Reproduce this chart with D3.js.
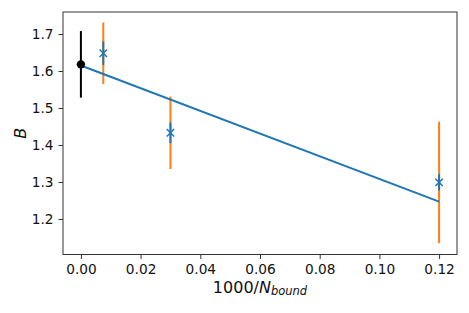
<!DOCTYPE html>
<html lang="en-US">
  <head>
    <meta charset="utf-8">
    <title>B vs 1000/N</title>
    <style>
      body { margin: 0; background: white; }
      text { font-family: "DejaVu Sans", sans-serif; }
    </style>
  </head>
  <body>
  <script src="https://d3js.org/d3.v7.min.js"></script>
  <div id="my_dataviz"></div>
  <script>

    // data
    var xs       = [0.0075, 0.03, 0.12]
    var ys       = [1.648, 1.433, 1.299]
    var errInner = [0.032, 0.028, 0.022]   // blue bars
    var errOuter = [0.083, 0.098, 0.164]   // orange bars
    var extrap   = {x: 0, y: 1.618, err: 0.09}
    var fitLine  = [[0, 1.615], [0.12, 1.247]]
    var xTicks   = [0, 0.02, 0.04, 0.06, 0.08, 0.10, 0.12]
    var yTicks   = [1.2, 1.3, 1.4, 1.5, 1.6, 1.7]

    var width = 469, height = 313
    var margin = {left: 63, top: 12, right: 12, bottom: 58.5}

    var svg = d3.select("#my_dataviz")
      .append("svg")
        .attr("width", width)
        .attr("height", height)

    var x = d3.scaleLinear()
      .domain([-0.006, 0.126])
      .range([margin.left, width - margin.right])
    var y = d3.scaleLinear()
      .domain([1.104, 1.7595])
      .range([height - margin.bottom, margin.top])

    var blue = "#1f77b4", orange = "#ff7f0e"

    // orange error bars
    svg.selectAll("line.outer")
      .data(xs)
      .enter().append("line")
        .attr("x1", function(d){ return x(d) })
        .attr("x2", function(d){ return x(d) })
        .attr("y1", function(d, i){ return y(ys[i] - errOuter[i]) })
        .attr("y2", function(d, i){ return y(ys[i] + errOuter[i]) })
        .attr("stroke", orange)
        .attr("stroke-width", 2)

    // blue error bars
    svg.selectAll("line.inner")
      .data(xs)
      .enter().append("line")
        .attr("x1", function(d){ return x(d) })
        .attr("x2", function(d){ return x(d) })
        .attr("y1", function(d, i){ return y(ys[i] - errInner[i]) })
        .attr("y2", function(d, i){ return y(ys[i] + errInner[i]) })
        .attr("stroke", blue)
        .attr("stroke-width", 2)

    // x markers
    var s = 3.7
    var marks = svg.selectAll("g.mark")
      .data(xs)
      .enter().append("g")
        .attr("transform", function(d, i){ return "translate(" + x(d) + "," + y(ys[i]) + ")" })
    marks.append("path")
      .attr("d", "M" + (-s) + "," + (-s) + "L" + s + "," + s + "M" + (-s) + "," + s + "L" + s + "," + (-s))
      .attr("stroke", blue)
      .attr("stroke-width", 1.5)
      .attr("fill", "none")

    // fit line
    svg.append("path")
      .datum(fitLine)
      .attr("d", d3.line().x(function(d){ return x(d[0]) }).y(function(d){ return y(d[1]) }))
      .attr("stroke", blue)
      .attr("stroke-width", 2)
      .attr("fill", "none")

    // extrapolated point
    svg.append("line")
      .attr("x1", x(extrap.x)).attr("x2", x(extrap.x))
      .attr("y1", y(extrap.y - extrap.err)).attr("y2", y(extrap.y + extrap.err))
      .attr("stroke", "black")
      .attr("stroke-width", 2)
    svg.append("circle")
      .attr("cx", x(extrap.x))
      .attr("cy", y(extrap.y))
      .attr("r", 4.2)
      .attr("fill", "black")

    // axes
    var xAxis = svg.append("g")
      .attr("transform", "translate(0," + (height - margin.bottom) + ")")
      .call(d3.axisBottom(x).tickValues(xTicks).tickFormat(d3.format(".2f")).tickSizeOuter(0).tickSize(4.5).tickPadding(5))
    var yAxis = svg.append("g")
      .attr("transform", "translate(" + margin.left + ",0)")
      .call(d3.axisLeft(y).tickValues(yTicks).tickFormat(d3.format(".1f")).tickSizeOuter(0).tickSize(4.5).tickPadding(5))
    svg.selectAll(".tick text")
      .style("font-size", "13.7px")
      .attr("fill", "#111")
      .style("font-family", "DejaVu Sans")
    svg.selectAll(".tick line").attr("stroke", "#333")
    svg.selectAll(".domain").remove()

    // frame
    svg.append("rect")
      .attr("x", margin.left)
      .attr("y", margin.top)
      .attr("width", width - margin.left - margin.right)
      .attr("height", height - margin.top - margin.bottom)
      .attr("fill", "none")
      .attr("stroke", "#333")
      .attr("stroke-width", 1)

    // labels
    var xl = svg.append("text")
      .attr("x", (margin.left + width - margin.right) / 2)
      .attr("y", 292.5)
      .attr("text-anchor", "middle")
      .style("font-size", "16px")
      .attr("fill", "#111")
    xl.append("tspan").text("1000/")
    xl.append("tspan").text("N").style("font-style", "italic")
    xl.append("tspan").text("bound").style("font-style", "italic")
      .style("font-size", "11.5px").attr("dy", 2.5)

    svg.append("text")
      .attr("transform", "translate(26," + ((margin.top + height - margin.bottom) / 2) + ") rotate(-90)")
      .attr("text-anchor", "middle")
      .style("font-size", "16px")
      .style("font-style", "italic")
      .attr("fill", "#111")
      .text("B")

</script>
  </body>
</html>
